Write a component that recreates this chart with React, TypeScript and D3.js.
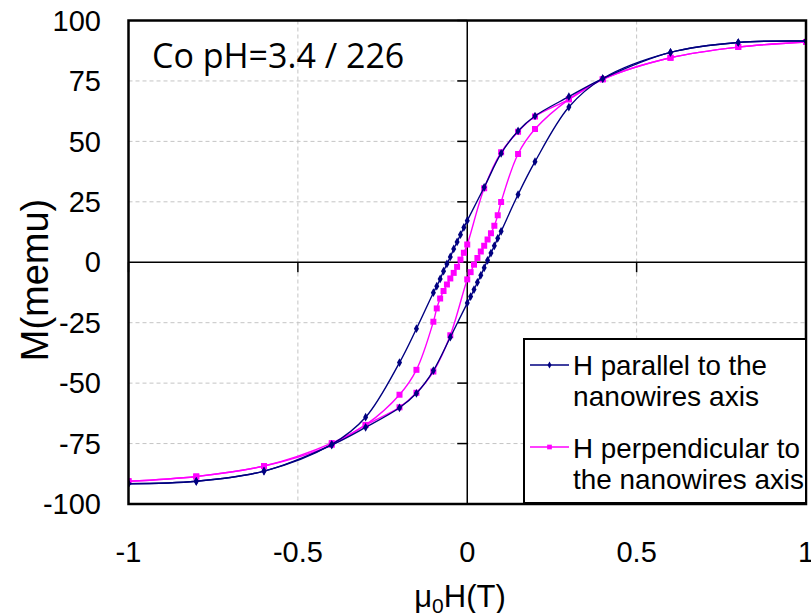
import React from "react";
import * as d3 from "d3";

// H (T) and M (memu) values for each branch
const parallelDescH = [1, 0.8, 0.6, 0.4, 0.3, 0.2, 0.15, 0.1, 0.05, 0, -0.01, -0.02, -0.03, -0.04, -0.05, -0.06, -0.07, -0.08, -0.09, -0.1, -0.15, -0.2, -0.3, -0.4, -0.6, -0.8, -1];
const parallelDescM = [91.5, 90.9, 86.8, 76, 68.5, 60.5, 54.3, 45, 31, 17.2, 14.4, 11.4, 8.4, 5.5, 2.2, -0.7, -3.7, -6.9, -9.9, -12.6, -27.5, -41.5, -64.1, -75.3, -86.4, -90.6, -91.6];
const parallelAscH = [-1, -0.8, -0.6, -0.4, -0.3, -0.2, -0.15, -0.1, -0.05, 0, 0.01, 0.02, 0.03, 0.04, 0.05, 0.06, 0.07, 0.08, 0.09, 0.1, 0.15, 0.2, 0.3, 0.4, 0.6, 0.8, 1];
const parallelAscM = [-91.6, -90.6, -86.4, -75.6, -68.3, -60.2, -54.2, -44.8, -31, -16.9, -14.2, -11.3, -8.3, -5.4, -2.3, 0.8, 3.8, 6.8, 9.9, 12.8, 28, 41.6, 64.2, 76, 86.8, 90.9, 91.5];

const perpDescH = [1, 0.8, 0.6, 0.4, 0.3, 0.2, 0.15, 0.1, 0.05, 0, -0.01, -0.02, -0.03, -0.04, -0.05, -0.06, -0.07, -0.08, -0.09, -0.1, -0.15, -0.2, -0.3, -0.4, -0.6, -0.8, -1];
const perpDescM = [91.1, 89, 84.6, 75.7, 67.4, 60.3, 54, 45.5, 30.6, 7.3, 3.9, 1.1, -1.9, -4.4, -6.7, -9.2, -11.9, -15, -19.1, -24.6, -44.5, -54.8, -67.3, -74.8, -84.3, -88.6, -90.6];
const perpAscH = [-1, -0.8, -0.6, -0.4, -0.3, -0.2, -0.15, -0.1, -0.05, 0, 0.01, 0.02, 0.03, 0.04, 0.05, 0.06, 0.07, 0.08, 0.09, 0.1, 0.15, 0.2, 0.3, 0.4, 0.6, 0.8, 1];
const perpAscM = [-90.6, -88.6, -84.3, -75.5, -67.3, -60, -54, -45.2, -30.2, -7.1, -4.1, -1, 1.8, 4.4, 6.8, 9.4, 12, 15.1, 19.4, 24.9, 44.8, 55.1, 67.4, 75.7, 84.6, 89, 91.1];

const xTicks = [-1, -0.5, 0, 0.5, 1];
const xTickLabels = ["-1", "-0.5", "0", "0.5", "1"];
const yTicks = [100, 75, 50, 25, 0, -25, -50, -75, -100];
const yTickLabels = ["100", "75", "50", "25", "0", "-25", "-50", "-75", "-100"];
const xGrid = [-0.5, 0.5];
const yGrid = [75, 50, 25, -25, -50, -75];

const title = "Co pH=3.4 / 226";
const legendParallel = ["H parallel to the", "nanowires axis"];
const legendPerp = ["H perpendicular to", "the nanowires axis"];

const NAVY = "#000080";
const PINK = "#FF00FF";

export default function App() {
  const W = 811, H = 613;
  const left = 128.5, right = 806, top = 20.5, bottom = 504;
  const x = d3.scaleLinear().domain([-1, 1]).range([left, right]);
  const y = d3.scaleLinear().domain([-100, 100]).range([bottom, top]);

  const zip = (hs: number[], ms: number[]) => hs.map((h, i) => [h, ms[i]] as [number, number]);
  const line = d3
    .line<[number, number]>()
    .x((d) => x(d[0]))
    .y((d) => y(d[1]))
    .curve(d3.curveCatmullRom.alpha(0.5));

  const diamond = d3.symbol().type(d3.symbolDiamond).size(22)() as string;
  const square = d3.symbol().type(d3.symbolSquare).size(36)() as string;
  const diamondL = d3.symbol().type(d3.symbolDiamond).size(14)() as string;
  const squareL = d3.symbol().type(d3.symbolSquare).size(22)() as string;

  const series = [
    { data: zip(perpDescH, perpDescM), color: PINK, marker: square },
    { data: zip(perpAscH, perpAscM), color: PINK, marker: square },
    { data: zip(parallelDescH, parallelDescM), color: NAVY, marker: diamond },
    { data: zip(parallelAscH, parallelAscM), color: NAVY, marker: diamond },
  ];

  const font = "'Liberation Sans', Arial, sans-serif";

  return (
    <svg width={W} height={H} style={{ position: "absolute", left: 0, top: 0, background: "#fff" }}>
      <defs>
        <clipPath id="plotclip">
          <rect x={left} y={top} width={right - left} height={bottom - top} />
        </clipPath>
      </defs>
      <rect x={0} y={0} width={W} height={H} fill="#fff" />
      {/* grid */}
      {xGrid.map((g) => (
        <line key={"gx" + g} x1={x(g)} x2={x(g)} y1={top} y2={bottom} stroke="#c4c4c4" strokeWidth={1} strokeDasharray="4,3" />
      ))}
      {yGrid.map((g) => (
        <line key={"gy" + g} x1={left} x2={right} y1={y(g)} y2={y(g)} stroke="#c4c4c4" strokeWidth={1} strokeDasharray="4,3" />
      ))}
      {/* zero axes */}
      <line x1={left} x2={right} y1={y(0)} y2={y(0)} stroke="#000" strokeWidth={1.5} />
      <line x1={x(0)} x2={x(0)} y1={top} y2={bottom} stroke="#000" strokeWidth={1.5} />
      {yTicks.map((t) => (
        <line key={"yt" + t} x1={x(0) - 10} x2={x(0)} y1={y(t)} y2={y(t)} stroke="#000" strokeWidth={1.5} />
      ))}
      {xTicks.map((t) => (
        <line key={"xt" + t} x1={x(t)} x2={x(t)} y1={y(0)} y2={y(0) + 10} stroke="#000" strokeWidth={1.5} />
      ))}
      {/* series */}
      <g clipPath="url(#plotclip)">
        {series.map((s, i) => (
          <g key={"s" + i}>
            <path d={line(s.data) as string} fill="none" stroke={s.color} strokeWidth={1.4} />
            {s.data.map((d, j) => (
              <path key={j} d={s.marker} transform={`translate(${x(d[0])},${y(d[1])})`} fill={s.color} />
            ))}
          </g>
        ))}
      </g>
      {/* border */}
      <rect x={left} y={top} width={right - left} height={bottom - top} fill="none" stroke="#000" strokeWidth={2.5} />
      {/* title */}
      <text x={152} y={68} fontFamily="'Open Sans', sans-serif" fontSize={34} fill="#000">
        {title}
      </text>
      {/* y tick labels */}
      {yTicks.map((t, i) => (
        <text key={"yl" + t} x={101} y={y(t)} dy="0.35em" textAnchor="end" fontFamily={font} fontSize={29} fill="#000">
          {yTickLabels[i]}
        </text>
      ))}
      {/* x tick labels */}
      {xTicks.map((t, i) => (
        <text key={"xl" + t} x={x(t)} y={562} textAnchor="middle" fontFamily={font} fontSize={29} fill="#000">
          {xTickLabels[i]}
        </text>
      ))}
      {/* axis titles */}
      <text transform="translate(48,280) rotate(-90)" textAnchor="middle" fontFamily={font} fontSize={38} fill="#000">
        M(memu)
      </text>
      <text x={460} y={607} textAnchor="middle" fontFamily={font} fontSize={31} fill="#000">
        μ<tspan fontSize={21} dy={6}>0</tspan>
        <tspan dy={-6}>H(T)</tspan>
      </text>
      {/* legend */}
      <rect x={524} y={339} width={282} height={164} fill="#fff" stroke="#000" strokeWidth={2} />
      <line x1={530} x2={569} y1={365} y2={365} stroke={NAVY} strokeWidth={1.5} />
      <path d={diamondL} transform="translate(549.5,365)" fill={NAVY} />
      <line x1={530} x2={569} y1={447} y2={447} stroke={PINK} strokeWidth={1.5} />
      <path d={squareL} transform="translate(549.5,447)" fill={PINK} />
      <text x={573} y={375} fontFamily={font} fontSize={28} fill="#000" textLength={194} lengthAdjust="spacingAndGlyphs">{legendParallel[0]}</text>
      <text x={573} y={406} fontFamily={font} fontSize={28} fill="#000" textLength={186} lengthAdjust="spacingAndGlyphs">{legendParallel[1]}</text>
      <text x={573} y={458} fontFamily={font} fontSize={28} fill="#000" textLength={227} lengthAdjust="spacingAndGlyphs">{legendPerp[0]}</text>
      <text x={573} y={489} fontFamily={font} fontSize={28} fill="#000" textLength={231} lengthAdjust="spacingAndGlyphs">{legendPerp[1]}</text>
    </svg>
  );
}
